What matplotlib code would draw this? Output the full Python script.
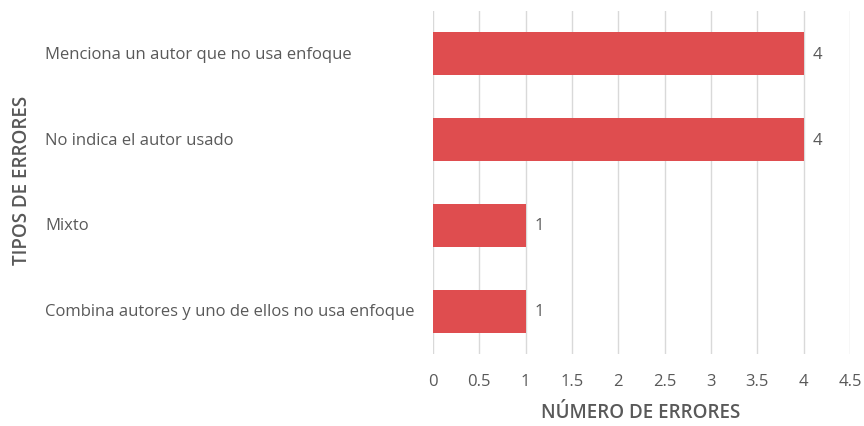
import matplotlib.pyplot as plt
import numpy as np

categorias = ['Menciona un autor que no usa enfoque', 'No indica el autor usado',
              'Mixto', 'Combina autores y uno de ellos no usa enfoque']
errores = [4, 4, 1, 1]
xticks = [0, 0.5, 1, 1.5, 2, 2.5, 3, 3.5, 4, 4.5]
xtick_labels = ['0', '0.5', '1', '1.5', '2', '2.5', '3', '3.5', '4', '4.5']

plt.rcParams['font.family'] = ['Open Sans', 'DejaVu Sans']
gris = '#595959'
rojo = '#DF4D4F'

fig = plt.figure(figsize=(8.64, 4.27), dpi=100)
ax = fig.add_axes([433 / 864, 1 - 355 / 427, (850 - 433) / 864, (355 - 12) / 427])

y = np.arange(len(categorias))
ax.barh(y, errores, height=0.5, color=rojo, zorder=3)
ax.set_ylim(len(categorias) - 0.5, -0.5)
ax.set_xlim(0, 4.5)

for yi, v in zip(y, errores):
    ax.text(v + 0.1, yi, str(v), va='center', ha='left', fontsize=12, color=gris)

ax.set_xticks(xticks)
ax.set_xticklabels(xtick_labels, fontsize=12, color=gris)
ax.tick_params(axis='x', length=0, pad=14)
ax.grid(axis='x', color='#D9D9D9', linewidth=1, zorder=0)
ax.set_yticks([])
for s in ax.spines.values():
    s.set_visible(False)

# etiquetas de categoria alineadas a la izquierda
trans = ax.get_yaxis_transform().__class__(fig.transFigure, ax.transData)
for yi, c in zip(y, categorias):
    ax.text(45 / 864, yi, c, transform=trans, ha='left', va='center', fontsize=12, color=gris)

fig.text(641 / 864, 1 - 413 / 427, 'NÚMERO DE ERRORES', ha='center', va='center',
         fontsize=13.5, color=gris, fontweight='semibold')
fig.text(22 / 864, 1 - 180 / 427, 'TIPOS DE ERRORES', ha='center', va='center',
         rotation=90, fontsize=13.5, color=gris, fontweight='semibold')

fig.savefig('out.png', dpi=100)
